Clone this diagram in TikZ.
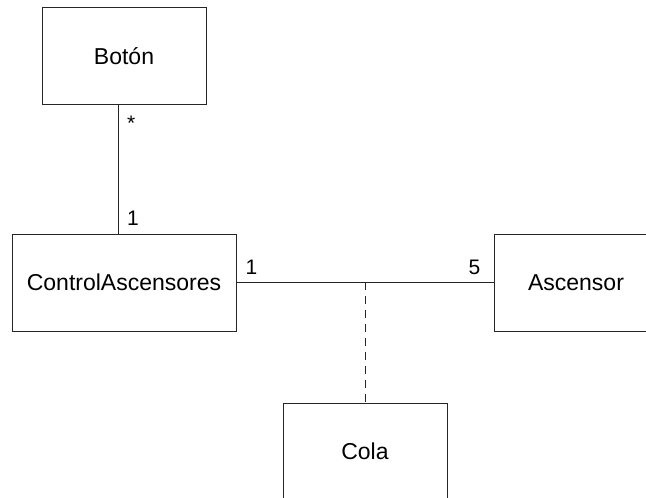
\documentclass[tikz,border=0pt]{standalone}
\usepackage{fontspec}
\setmainfont{Liberation Sans}
\usetikzlibrary{positioning}

\tikzset{
    classbox/.style = {draw=black!85, line width=0.9pt, minimum width=164pt,
        minimum height=97pt, inner sep=0pt, font=\fontsize{23}{27}\selectfont},
    assoc/.style = {draw=black!85, line width=0.9pt},
    mult/.style = {inner sep=0pt, font=\fontsize{21}{25}\selectfont}
}

\begin{document}
\begin{tikzpicture}[x=1pt, y=1pt]
    \useasboundingbox (0,0) rectangle (646,498);
    \clip (0,0) rectangle (646,498);

    % classes
    \node[classbox] (boton) at (124,442) {Botón};
    \node[classbox, minimum width=224pt] (control) at (124,215.5) {ControlAscensores};
    \node[classbox] (ascensor) at (576,215.5) {Ascensor};
    \node[classbox] (cola) at (365,46.5) {Cola};

    % associations
    \draw[assoc] ([xshift=-6pt]boton.south) -- ([xshift=-6pt]control.north);
    \draw[assoc] (control.east) -- coordinate (mid) (ascensor.west);
    \draw[assoc, dash pattern=on 8pt off 6pt] (mid) -- (cola.north);

    % multiplicities
    \node[mult, anchor=north west] (mboton) at ([xshift=3pt, yshift=-11pt]boton.south) {*};
    \node[mult, anchor=south west] (mcontrol) at ([xshift=3pt, yshift=8pt]control.north) {1};
    \node[mult, anchor=south west] (mleft) at ([xshift=9pt, yshift=8pt]control.east) {1};
    \node[mult, anchor=south east] (mright) at ([xshift=-13pt, yshift=8pt]ascensor.west) {5};
\end{tikzpicture}
\end{document}
